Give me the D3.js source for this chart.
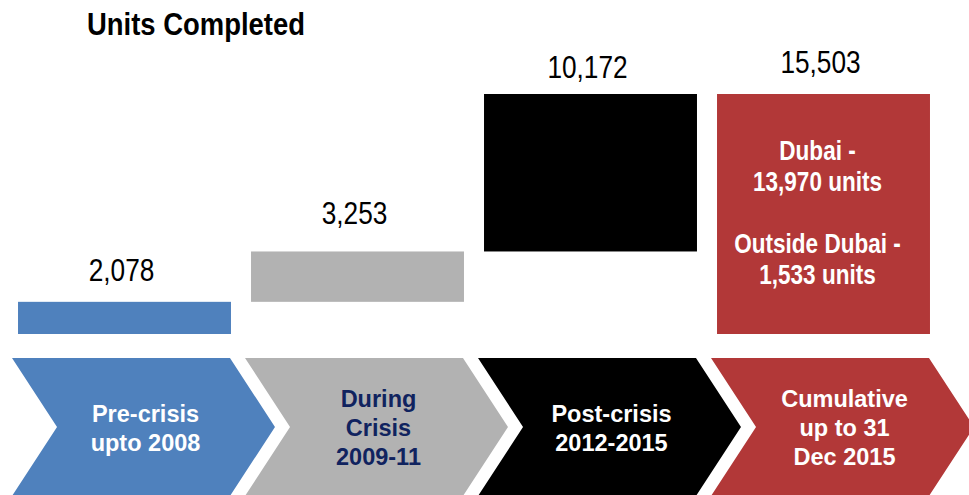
<!DOCTYPE html>
<html>
<head>
<meta charset="utf-8">
<script src="https://cdn.jsdelivr.net/npm/d3@7"></script>
<style>
  body { margin: 0; background: #fff; }
  svg { display: block; }
</style>
</head>
<body>
<div id="chart"></div>
<script>
// Data
var phases = ["pre", "during", "post", "cumulative"];
var phaseLabels = [["Pre-crisis", "upto 2008"], ["During", "Crisis", "2009-11"], ["Post-crisis", "2012-2015"], ["Cumulative", "up to 31", "Dec 2015"]];
var units = [2078, 3253, 10172, 15503];
var isTotal = [false, false, false, true];
var splitNames = ["Dubai -", "Outside Dubai -"];
var splitUnits = [13970, 1533];

// Colors
var barColors = ["#4f81bd", "#b2b2b2", "#000000", "#b23838"];
var labelColors = ["#ffffff", "#10235f", "#ffffff", "#ffffff"];

var width = 969, height = 495;
var sans = "'Liberation Sans', Arial, sans-serif";
var squeeze = 0.82; // fake Arial Narrow (no narrow font installed)

var svg = d3.select("#chart").append("svg")
  .attr("width", width)
  .attr("height", height);

// Scales
var x = d3.scaleBand()
  .domain(phases)
  .range([8, 940])
  .paddingInner(0.086)
  .paddingOuter(0.043);

var y = d3.scaleLinear()
  .domain([0, d3.max(units)])
  .range([334, 94]);

// waterfall start / end
var rows = [];
var running = 0;
phases.forEach(function(p, i) {
  var start = isTotal[i] ? 0 : running;
  var end = isTotal[i] ? units[i] : running + units[i];
  if (!isTotal[i]) running = end;
  rows.push({ key: p, i: i, start: start, end: end, value: units[i] });
});

// narrow text helper
function narrowText(parent, cx, cy, str, size, weight, color, anchor) {
  return parent.append("text")
    .attr("transform", "translate(" + cx + "," + cy + ") scale(" + squeeze + ",1)")
    .attr("text-anchor", anchor || "middle")
    .style("font-family", sans)
    .style("font-weight", weight)
    .style("font-size", size + "px")
    .style("fill", color)
    .text(str);
}

// Title
svg.append("text")
  .attr("x", 87)
  .attr("y", 35)
  .attr("textLength", 218)
  .attr("lengthAdjust", "spacingAndGlyphs")
  .style("font-family", sans)
  .style("font-weight", "bold")
  .style("font-size", "31px")
  .style("fill", "#000")
  .text("Units Completed");

// Bars
svg.selectAll(".bar")
  .data(rows)
  .enter().append("rect")
  .attr("class", "bar")
  .attr("x", function(d) { return x(d.key); })
  .attr("y", function(d) { return y(d.end); })
  .attr("width", x.bandwidth())
  .attr("height", function(d) { return y(d.start) - y(d.end); })
  .style("fill", function(d) { return barColors[d.i]; });

// Value labels
var gapAbove = [21, 27, 16, 21];
rows.forEach(function(d) {
  narrowText(svg, x(d.key) + x.bandwidth() / 2 - 3, y(d.end) - gapAbove[d.i],
    d3.format(",")(d.value), 32, "normal", "#000");
});

// Split text inside the cumulative bar
var total = rows[3];
var midY = (y(total.start) + y(total.end)) / 2;
var cx = x(total.key) + x.bandwidth() / 2 - 6;
splitNames.forEach(function(name, k) {
  var base = midY - 54 + k * 93;
  narrowText(svg, cx, base, name, 27.5, "bold", "#fff");
  narrowText(svg, cx, base + 31, d3.format(",")(splitUnits[k]) + " units", 27.5, "bold", "#fff");
});

// Chevrons
var chevTop = 358, chevBottom = 496, depth = 45;
var chevMid = (chevTop + chevBottom) / 2;

svg.selectAll(".chevron")
  .data(rows)
  .enter().append("path")
  .attr("class", "chevron")
  .attr("d", function(d) {
    var l = x(d.key) - 6, r = x(d.key) + x.bandwidth() - 1;
    return "M" + l + "," + chevTop +
      "L" + r + "," + chevTop +
      "L" + (r + depth) + "," + chevMid +
      "L" + r + "," + chevBottom +
      "L" + l + "," + chevBottom +
      "L" + (l + depth) + "," + chevMid + "Z";
  })
  .style("fill", function(d) { return barColors[d.i]; });

var lh = 29;
svg.selectAll(".phase")
  .data(rows)
  .enter().append("text")
  .attr("class", "phase")
  .attr("text-anchor", "middle")
  .style("font-family", sans)
  .style("font-weight", "bold")
  .style("font-size", "23.5px")
  .style("fill", function(d) { return labelColors[d.i]; })
  .each(function(d) {
    var lines = phaseLabels[d.i];
    var t = d3.select(this);
    var first = chevMid - (lines.length - 1) / 2 * lh + 9;
    lines.forEach(function(line, j) {
      t.append("tspan")
        .attr("x", x(d.key) + x.bandwidth() / 2 + 21)
        .attr("y", first + j * lh)
        .text(line);
    });
  });
</script>
</body>
</html>
